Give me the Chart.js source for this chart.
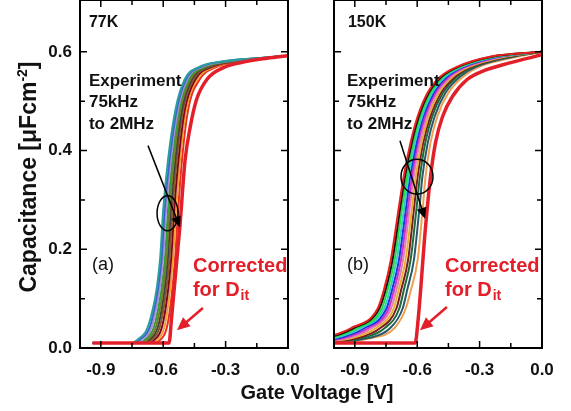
<!DOCTYPE html>
<html>
<head>
<meta charset="utf-8">
<script src="https://cdn.jsdelivr.net/npm/chart.js@4.4.0/dist/chart.umd.min.js"></script>
<style>
body { margin: 0; background: #fff; }
#wrap { position: relative; width: 571px; height: 411px; overflow: hidden; font-family: "Liberation Sans", Arial, sans-serif; color: #111; }
canvas { position: absolute; top: 0; }
#ytitle { position: absolute; left: -102px; top: 165px; width: 260px; height: 24px; line-height: 24px;
  text-align: center; font-weight: bold; font-size: 23px; transform: rotate(-90deg); white-space: nowrap; }
#ytitle sup { font-size: 14px; line-height: 0; }
#xtitle { position: absolute; left: 217px; top: 380px; width: 200px; text-align: center;
  font-weight: bold; font-size: 20px; line-height: 24px; }
</style>
</head>
<body>
<div id="wrap">
  <canvas id="c77" width="300" height="411" style="left:0"></canvas>
  <canvas id="c150" width="271" height="411" style="left:300px"></canvas>
  <div id="ytitle">Capacitance [&mu;Fcm<sup>-2</sup>]</div>
  <div id="xtitle">Gate Voltage [V]</div>
</div>
<script>
// axis ticks
const xLabelVals = [-0.9, -0.6, -0.3, 0.0];
const xTickVals = [-0.9, -0.75, -0.6, -0.45, -0.3, -0.15];
const yLabelVals = [0.0, 0.2, 0.4, 0.6];
const yTickVals = [0.1, 0.2, 0.3, 0.4, 0.5, 0.6];

// 77K: capacitance levels shared by every curve, gate voltage of each curve at those levels
const cap77 = [0.01, 0.01, 0.016, 0.057, 0.18, 0.28, 0.38, 0.483, 0.544, 0.57, 0.58, 0.587, 0.592];
const volt77 = [
  [-0.94, -0.76, -0.726, -0.663, -0.615, -0.600, -0.577, -0.541, -0.497, -0.424, -0.326, -0.15, 0],
  [-0.94, -0.75, -0.715, -0.654, -0.608, -0.593, -0.570, -0.535, -0.491, -0.417, -0.318, -0.145, 0],
  [-0.94, -0.74, -0.704, -0.645, -0.601, -0.586, -0.564, -0.529, -0.485, -0.41, -0.31, -0.14, 0],
  [-0.94, -0.728, -0.69, -0.635, -0.592, -0.577, -0.556, -0.523, -0.477, -0.400, -0.300, -0.134, 0],
  [-0.94, -0.718, -0.679, -0.626, -0.585, -0.570, -0.549, -0.517, -0.470, -0.392, -0.292, -0.129, 0],
  [-0.94, -0.708, -0.668, -0.617, -0.578, -0.563, -0.542, -0.510, -0.463, -0.383, -0.283, -0.124, 0],
  [-0.94, -0.698, -0.657, -0.608, -0.570, -0.555, -0.535, -0.504, -0.455, -0.374, -0.274, -0.119, 0],
  [-0.94, -0.686, -0.644, -0.598, -0.562, -0.547, -0.527, -0.496, -0.446, -0.363, -0.263, -0.113, 0],
  [-0.94, -0.674, -0.63, -0.587, -0.553, -0.538, -0.519, -0.489, -0.436, -0.353, -0.253, -0.107, 0],
  [-0.94, -0.66, -0.615, -0.575, -0.543, -0.528, -0.510, -0.480, -0.425, -0.34, -0.24, -0.10, 0]
];
const colors77 = ['#2a9d9d', '#4060d0', '#a890d8', '#3a9a3a', '#7a7a20', '#404040', '#8b5a2b', '#800020', '#f0a030', '#e83020'];
const corrV77 = [-0.94, -0.572, -0.56, -0.52, -0.495, -0.47, -0.44, -0.39, -0.31, -0.23, -0.1, 0];
const corrC77 = [0.01, 0.01, 0.06, 0.245, 0.38, 0.448, 0.503, 0.544, 0.568, 0.578, 0.587, 0.592];

// 150K
const cap150 = [0.012, 0.02, 0.04, 0.08, 0.118, 0.178, 0.28, 0.347, 0.416, 0.469, 0.517, 0.55, 0.57, 0.59, 0.6];
const volt150 = [
  [-1.15, -1.05, -0.92, -0.79, -0.76, -0.727, -0.69, -0.665, -0.632, -0.598, -0.55, -0.488, -0.407, -0.25, 0],
  [-1.141, -1.035, -0.907, -0.782, -0.752, -0.719, -0.683, -0.659, -0.626, -0.592, -0.544, -0.481, -0.401, -0.242, 0],
  [-1.129, -1.015, -0.889, -0.770, -0.742, -0.709, -0.674, -0.650, -0.619, -0.585, -0.536, -0.473, -0.392, -0.232, 0],
  [-1.117, -0.995, -0.872, -0.759, -0.731, -0.699, -0.664, -0.642, -0.611, -0.577, -0.528, -0.464, -0.383, -0.221, 0],
  [-1.105, -0.975, -0.854, -0.748, -0.721, -0.688, -0.655, -0.634, -0.603, -0.570, -0.52, -0.455, -0.375, -0.211, 0],
  [-1.093, -0.955, -0.836, -0.737, -0.711, -0.678, -0.646, -0.625, -0.596, -0.562, -0.512, -0.446, -0.366, -0.201, 0],
  [-1.081, -0.935, -0.819, -0.726, -0.700, -0.668, -0.637, -0.617, -0.588, -0.554, -0.504, -0.437, -0.358, -0.190, 0],
  [-1.068, -0.913, -0.799, -0.713, -0.689, -0.656, -0.626, -0.607, -0.579, -0.546, -0.495, -0.428, -0.348, -0.179, 0],
  [-1.054, -0.89, -0.779, -0.700, -0.677, -0.644, -0.616, -0.598, -0.571, -0.537, -0.486, -0.418, -0.339, -0.167, 0],
  [-1.039, -0.865, -0.757, -0.686, -0.664, -0.632, -0.604, -0.587, -0.561, -0.528, -0.476, -0.407, -0.328, -0.154, 0],
  [-1.021, -0.835, -0.731, -0.670, -0.648, -0.616, -0.590, -0.575, -0.549, -0.516, -0.464, -0.393, -0.315, -0.138, 0],
  [-1.0, -0.82, -0.71, -0.655, -0.63, -0.598, -0.574, -0.56, -0.536, -0.503, -0.45, -0.378, -0.3, -0.12, 0]
];
const colors150 = ['#e8201c', '#111111', '#22dd44', '#33cccc', '#2233dd', '#cc33cc', '#e080b0', '#e8b030', '#7a1a1a', '#1a6a3a', '#2a5a6a', '#f0a050'];
const corrV150 = [-1.0, -0.61, -0.595, -0.56, -0.536, -0.512, -0.478, -0.43, -0.36, -0.29, -0.15, 0];
const corrC150 = [0.01, 0.01, 0.06, 0.245, 0.347, 0.416, 0.469, 0.51, 0.544, 0.56, 0.578, 0.594];

const FONT = '"Liberation Sans", Arial, sans-serif';
const RED = '#e3202a';

function buildDatasets(caps, volts, colors, corrV, corrC) {
  const sets = [{
    data: corrV.map((v, i) => ({x: v, y: corrC[i]})),
    borderColor: RED, borderWidth: 3.5, pointRadius: 0, cubicInterpolationMode: 'monotone'
  }];
  volts.forEach((vs, i) => sets.push({
    data: vs.map((v, j) => ({x: v, y: caps[j]})),
    borderColor: colors[i], borderWidth: 2, pointRadius: 0, cubicInterpolationMode: 'monotone'
  }));
  return sets;
}

function arrow(ctx, x0, y0, x1, y1, w, head, color) {
  const a = Math.atan2(y1 - y0, x1 - x0);
  ctx.strokeStyle = color; ctx.fillStyle = color; ctx.lineWidth = w;
  ctx.beginPath();
  ctx.moveTo(x0, y0);
  ctx.lineTo(x1 - Math.cos(a) * head * 0.8, y1 - Math.sin(a) * head * 0.8);
  ctx.stroke();
  ctx.beginPath();
  ctx.moveTo(x1, y1);
  ctx.lineTo(x1 - head * Math.cos(a) + head * 0.45 * Math.sin(a), y1 - head * Math.sin(a) - head * 0.45 * Math.cos(a));
  ctx.lineTo(x1 - head * Math.cos(a) - head * 0.45 * Math.sin(a), y1 - head * Math.sin(a) + head * 0.45 * Math.cos(a));
  ctx.closePath();
  ctx.fill();
}

// frame, inward ticks and the notes of one panel
function panelPlugin(n) {
  return {
    id: 'panel',
    afterDatasetsDraw(chart) {
      const {ctx, chartArea: a, scales: {x, y}} = chart;
      ctx.save();
      ctx.strokeStyle = '#000';
      ctx.lineWidth = 1.5;
      xTickVals.forEach(v => {
        const px = x.getPixelForValue(v);
        const len = xLabelVals.includes(v) ? 7 : 5;
        ctx.beginPath();
        ctx.moveTo(px, a.bottom); ctx.lineTo(px, a.bottom - len);
        ctx.moveTo(px, a.top); ctx.lineTo(px, a.top + len);
        ctx.stroke();
      });
      yTickVals.forEach(v => {
        const py = y.getPixelForValue(v);
        const len = yLabelVals.includes(v) ? 7 : 5;
        ctx.beginPath();
        ctx.moveTo(a.left, py); ctx.lineTo(a.left + len, py);
        ctx.moveTo(a.right, py); ctx.lineTo(a.right - len, py);
        ctx.stroke();
      });
      ctx.lineWidth = 2;
      ctx.strokeRect(a.left, a.top, a.right - a.left, a.bottom - a.top);

      const X = v => x.getPixelForValue(v), Y = v => y.getPixelForValue(v);
      ctx.textBaseline = 'middle';
      ctx.textAlign = 'left';
      ctx.fillStyle = '#111';
      ctx.font = 'bold 16px ' + FONT;
      ctx.fillText(n.temp, X(n.tx), Y(0.66));
      ctx.font = 'bold 17px ' + FONT;
      ctx.fillText('Experiment', X(n.ex), Y(0.541));
      ctx.fillText('75kHz', X(n.ex), Y(0.497));
      ctx.fillText('to 2MHz', X(n.ex), Y(0.453));
      ctx.font = '18px ' + FONT;
      ctx.fillText(n.tag, X(n.tagx), Y(0.168));
      ctx.fillStyle = RED;
      ctx.font = 'bold 20px ' + FONT;
      ctx.fillText('Corrected', X(n.cx), Y(0.166));
      ctx.fillText('for D', X(n.cx), Y(0.117));
      const w = ctx.measureText('for D').width;
      ctx.font = 'bold 14px ' + FONT;
      ctx.fillText('it', X(n.cx) + w + 1, Y(0.117) + 6);

      ctx.strokeStyle = '#000';
      ctx.lineWidth = 1.5;
      ctx.beginPath();
      ctx.ellipse(X(n.el[0]), Y(n.el[1]), n.el[2], n.el[3], 0, 0, Math.PI * 2);
      ctx.stroke();
      arrow(ctx, X(n.ba[0]), Y(n.ba[1]), X(n.ba[2]), Y(n.ba[3]), 1.5, 11, '#000');
      arrow(ctx, X(n.ra[0]), Y(n.ra[1]), X(n.ra[2]), Y(n.ra[3]), 2.5, 13, RED);
      ctx.restore();
    }
  };
}

function makePanel(id, datasets, showY, yWidth, padRight, notes) {
  return new Chart(document.getElementById(id), {
    type: 'line',
    data: {datasets: datasets},
    options: {
      responsive: false,
      animation: false,
      events: [],
      layout: {padding: {top: 0, right: padRight, left: 0, bottom: 0}},
      plugins: {legend: {display: false}, tooltip: {enabled: false}},
      scales: {
        x: {
          type: 'linear', min: -1.0, max: 0.0,
          grid: {display: false}, border: {display: false},
          afterBuildTicks: s => { s.ticks = xLabelVals.map(v => ({value: v})); },
          afterFit: s => { s.height = 63; s.paddingLeft = 0; s.paddingRight = 0; },
          ticks: {
            autoSkip: false, maxRotation: 0, padding: 4, color: '#111',
            font: {family: FONT, size: 17, weight: 'bold'},
            callback: v => v.toFixed(1)
          }
        },
        y: {
          type: 'linear', min: 0, max: 0.705,
          grid: {display: false}, border: {display: false},
          afterBuildTicks: s => { s.ticks = yLabelVals.map(v => ({value: v})); },
          afterFit: s => { s.width = yWidth; s.paddingTop = 0; s.paddingBottom = 0; },
          ticks: {
            display: showY, padding: 0, color: '#111',
            font: {family: FONT, size: 17, weight: 'bold'},
            callback: v => v.toFixed(1)
          }
        }
      }
    },
    plugins: [panelPlugin(notes)]
  });
}

makePanel('c77', buildDatasets(cap77, volt77, colors77, corrV77, corrC77), true, 80, 12, {
  temp: '77K', tx: -0.957, ex: -0.957, tag: '(a)', tagx: -0.942, cx: -0.457,
  el: [-0.579, 0.273, 10.5, 17.5],
  ba: [-0.673, 0.41, -0.519, 0.244],
  ra: [-0.409, 0.081, -0.534, 0.036]
});
makePanel('c150', buildDatasets(cap150, volt150, colors150, corrV150, corrC150), false, 34, 29, {
  temp: '150K', tx: -0.933, ex: -0.9375, tag: '(b)', tagx: -0.9375, cx: -0.466,
  el: [-0.601, 0.347, 16, 17.5],
  ba: [-0.683, 0.42, -0.5625, 0.262],
  ra: [-0.457, 0.083, -0.587, 0.036]
});
</script>
</body>
</html>
